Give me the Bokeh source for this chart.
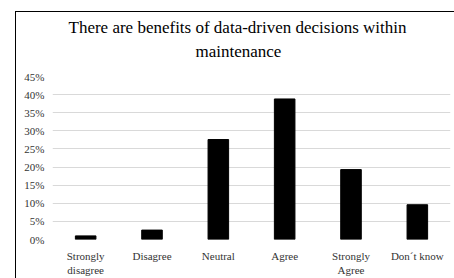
from bokeh.plotting import figure
from bokeh.models import FixedTicker, NumeralTickFormatter, Range1d, FactorRange, Title
from bokeh.embed import file_html
from bokeh.resources import INLINE

categories = ["Strongly\ndisagree", "Disagree", "Neutral", "Agree", "Strongly\nAgree", "Don\u00b4t know"]
shares = [0.010, 0.026, 0.276, 0.388, 0.193, 0.096]
y_ticks = [0.0, 0.05, 0.10, 0.15, 0.20, 0.25, 0.30, 0.35, 0.40, 0.45]
title_lines = ["There are benefits of data-driven decisions within", "maintenance"]

FONT = "Liberation Serif"

p = figure(x_range=FactorRange(*categories), y_range=Range1d(0, 0.45),
           width=454, height=278, output_backend="svg", toolbar_location=None,
           min_border_left=52, min_border_right=4, min_border_bottom=35, min_border_top=76)
p.border_fill_color = None
p.background_fill_color = None
# chart-area frame: thin black lines on the left and top edges (the rest lies outside the window)
p.styles = {
    "background": ("linear-gradient(#000,#000) 15px 11px / 1px 100% no-repeat, "
                   "linear-gradient(#000,#000) 15px 11px / 100% 1px no-repeat, #ffffff"),
}

title_offsets = [16, 143]
title_standoffs = [-24.6, 31]
for line, off, so in reversed(list(zip(title_lines, title_offsets, title_standoffs))):
    t = Title(text=line, align="left", offset=off, standoff=so, text_font=FONT,
              text_font_size="17px", text_font_style="normal", text_color="#000000")
    p.add_layout(t, "above")

p.vbar(x=categories, top=shares, width=0.31, color="#000000")

p.outline_line_color = None
p.xgrid.grid_line_color = None
p.ygrid.grid_line_color = "#d9d9d9"
p.ygrid.ticker = FixedTicker(ticks=y_ticks)

p.yaxis.ticker = FixedTicker(ticks=y_ticks)
p.yaxis.formatter = NumeralTickFormatter(format="0%")
for ax in (p.xaxis, p.yaxis):
    ax.axis_line_color = None
    ax.major_tick_line_color = None
    ax.minor_tick_line_color = None
    ax.major_tick_out = 0
    ax.major_tick_in = 0
    ax.minor_tick_out = 0
    ax.minor_tick_in = 0
    ax.major_label_text_font = FONT
    ax.major_label_text_font_size = "11px"
    ax.major_label_text_color = "#333333"
p.yaxis.major_label_standoff = 8
p.xaxis.major_label_standoff = 10

open("out.html", "w").write(file_html(p, INLINE))
